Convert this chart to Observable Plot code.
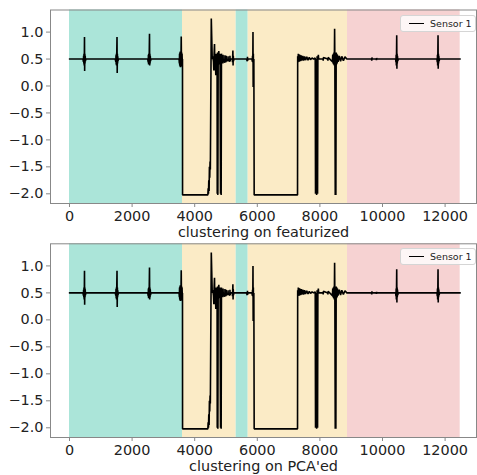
<!DOCTYPE html>
<html>
<head>
<meta charset="utf-8">
<script src="https://cdn.jsdelivr.net/npm/d3@7"></script>
<script src="https://cdn.jsdelivr.net/npm/@observablehq/plot@0.6"></script>
<style>
  html, body { margin: 0; padding: 0; background: #fff; }
  #chart { width: 477px; position: relative; }
  #chart svg { display: block; overflow: visible; }
  .panel { position: relative; }
  .legend {
    position: absolute; right: 1px; width: 76px; height: 17px;
    background: rgba(255,255,255,0.8); border: 1px solid #d5d5d5; border-radius: 3px;
    font: 9.5px "DejaVu Sans", sans-serif; color: #222; box-sizing: border-box;
  }
  .legend .sw { position: absolute; left: 8px; top: 7px; width: 15px; height: 0; border-top: 1.6px solid #000; }
  .legend .tx { position: absolute; left: 29px; top: 2px; white-space: nowrap; }
</style>
</head>
<body>
<div id="chart"></div>
<script>
// Cluster background spans
const spanStart = [0, 3610, 5325, 5709, 8882];
const spanEnd   = [3610, 5325, 5709, 8882, 12482];
const spanCluster = ["a", "b", "a", "b", "c"];
const clusterColors = {a: "#abe5d9", b: "#fbebc6", c: "#f6d2d2"};

// Sensor 1 signal (sample index, value)
const sensorX = [
  0, 300, 430, 445, 451, 457, 463, 469, 475, 479, 484, 490, 496, 502, 510, 520,
  1460, 1480, 1486, 1492, 1498, 1504, 1510, 1518, 1524, 1530, 1536, 1542, 1550, 1560,
  2500, 2515, 2521, 2527, 2533, 2539, 2548, 2556, 2562, 2568, 2574, 2580, 2590, 2600,
  3500, 3510, 3516, 3522, 3528, 3534, 3540, 3546, 3552, 3558, 3564, 3570, 3578, 3584, 3590, 3596, 3604, 3610, 3612,
  4420, 4430, 4440, 4450, 4460, 4470, 4480, 4490, 4500, 4530, 4560,
  4580, 4600, 4611, 4620, 4633, 4645, 4660, 4674, 4690, 4705, 4715, 4720, 4730, 4740, 4750,
  4770, 4790, 4810, 4825, 4835, 4845, 4855, 4870, 4880,
  4900, 4906, 4912, 4920, 4960, 4966, 4972, 4980, 5000, 5006, 5012, 5020, 5060, 5066, 5072, 5080,
  5120, 5126, 5132, 5140, 5200, 5208, 5214, 5220, 5226, 5232, 5240, 5250,
  5650, 5680, 5686, 5692, 5700, 5830, 5840, 5848, 5856, 5862, 5868, 5874, 5880, 5890, 5900,
  7285, 7290, 7300, 7310, 7320, 7330, 7340, 7360, 7380, 7400, 7420, 7450, 7480, 7510,
  7540, 7580, 7620, 7660, 7700, 7750, 7800, 7850, 7860, 7880, 7895, 7910, 7925, 7935, 7950, 7960,
  8100, 8106, 8112, 8250, 8256, 8262,
  8400, 8410, 8420, 8430, 8440, 8450, 8460, 8470, 8478, 8490, 8500, 8510, 8520, 8530, 8540,
  8550, 8560, 8580, 8620, 8660, 8700, 8750, 8800, 8860,
  9650, 9656, 9662, 9670, 9800, 9806, 9812, 9820,
  10420, 10430, 10436, 10442, 10448, 10454, 10460, 10466, 10472, 10478, 10490, 10500,
  11740, 11750, 11756, 11762, 11768, 11774, 11780, 11786, 11792, 11798, 11810, 11820,
  12482
];
const sensorY = [
  0.5, 0.5, 0.5, 0.45, 0.56, 0.42, 0.6, 0.38, 0.62, 0.91, 0.28, 0.6, 0.42, 0.56, 0.46, 0.5,
  0.5, 0.45, 0.57, 0.4, 0.6, 0.38, 0.62, 0.91, 0.24, 0.6, 0.42, 0.55, 0.46, 0.5,
  0.5, 0.44, 0.58, 0.4, 0.6, 0.42, 0.62, 0.97, 0.38, 0.6, 0.42, 0.56, 0.46, 0.5,
  0.5, 0.42, 0.6, 0.38, 0.62, 0.36, 0.64, 0.35, 0.62, 0.38, 0.64, 0.92, 0.36, 0.62, 0.4, 0.6, 0.42, 0.5, -2.02,
  -2.02, -1.9, -2.0, -1.75, -1.95, -1.5, -1.7, -1.4, -1.55, 1.25, 0.5,
  0.55, 0.45, 0.29, 0.6, 0.78, 0.29, 0.55, 0.2, 0.6, 0.35, 0.6, -2.0, 0.62, -2.02, 0.5,
  0.65, 0.4, 0.6, -2.0, 0.55, -2.02, 0.6, 0.45, 0.5,
  0.42, 0.58, 0.45, 0.5, 0.43, 0.57, 0.45, 0.5, 0.44, 0.56, 0.46, 0.5, 0.46, 0.55, 0.47, 0.5,
  0.45, 0.56, 0.46, 0.5, 0.5, 0.44, 0.56, 0.66, 0.38, 0.56, 0.46, 0.5,
  0.5, 0.46, 0.54, 0.47, 0.5, 0.5, 0.45, 0.56, 0.44, 1.0, -0.02, 0.6, -0.02, 0.5, -2.02,
  -2.02, 0.55, 0.44, 0.6, 0.45, 0.59, 0.45, 0.58, 0.46, 0.57, 0.47, 0.56, 0.47, 0.55,
  0.48, 0.54, 0.48, 0.53, 0.49, 0.52, 0.5, 0.52, -2.0, 0.5, -2.02, 0.55, -2.0, 0.5, 0.58, 0.5,
  0.5, 0.47, 0.53, 0.5, 0.47, 0.53,
  0.45, 0.58, 0.42, 0.6, 0.4, 0.62, 0.38, 1.06, 0.4, -2.02, 0.6, -2.02, 0.62, 0.4, 0.6,
  0.42, 0.58, 0.45, 0.56, 0.46, 0.55, 0.47, 0.54, 0.5,
  0.5, 0.47, 0.53, 0.5, 0.5, 0.48, 0.52, 0.5,
  0.5, 0.44, 0.58, 0.38, 0.6, 0.94, 0.32, 0.6, 0.42, 0.56, 0.46, 0.5,
  0.5, 0.44, 0.58, 0.38, 0.6, 0.94, 0.32, 0.6, 0.42, 0.56, 0.46, 0.5,
  0.5
];
const xTicks = [0, 2000, 4000, 6000, 8000, 10000, 12000];
const yTicks = [-2.0, -1.5, -1.0, -0.5, 0.0, 0.5, 1.0];
const panelLabels = ["clustering on featurized", "clustering on PCA'ed"];
const seriesName = "Sensor 1";

const spans = spanStart.map((s, i) => ({x1: s, x2: spanEnd[i], c: spanCluster[i]}));
const signal = sensorX.map((x, i) => ({x, y: sensorY[i]}));

const fmtY = d3.format(".1f");

function panel(label, marginTop, height) {
  return Plot.plot({
    width: 477,
    height,
    marginTop,
    marginBottom: 38,
    marginLeft: 50,
    marginRight: 1,
    style: {fontFamily: "DejaVu Sans, sans-serif", fontSize: "14.4px", color: "#222", background: "transparent"},
    x: {domain: [-607, 13003]},
    y: {domain: [-2.18, 1.41]},
    marks: [
      Plot.rect(spans, {x1: "x1", x2: "x2", fill: d => clusterColors[d.c]}),
      Plot.line(signal, {x: "x", y: "y", stroke: "#000", strokeWidth: 1.6, strokeLinejoin: "miter"}),
      Plot.frame({stroke: "#888", strokeWidth: 1}),
      Plot.axisX({ticks: xTicks, tickFormat: d3.format("d"), tickSize: 4, tickPadding: 3, stroke: "#888",
        label, labelAnchor: "center", labelArrow: "none", labelOffset: 33, fontSize: 14.4}),
      Plot.axisY({ticks: yTicks, tickFormat: fmtY, tickSize: 4, tickPadding: 3, stroke: "#888",
        label: null, fontSize: 14.4})
    ]
  });
}

const root = document.getElementById("chart");
[[panelLabels[0], 9.5, 241, 5.5], [panelLabels[1], 2.3, 234, 5]].forEach(([lab, mt, h, lt]) => {
  const wrap = document.createElement("div");
  wrap.className = "panel";
  wrap.appendChild(panel(lab, mt, h));
  const lg = document.createElement("div");
  lg.className = "legend";
  lg.style.top = (mt + lt) + "px";
  lg.innerHTML = `<div class="sw"></div><div class="tx">${seriesName}</div>`;
  wrap.appendChild(lg);
  root.appendChild(wrap);
});
</script>
</body>
</html>
